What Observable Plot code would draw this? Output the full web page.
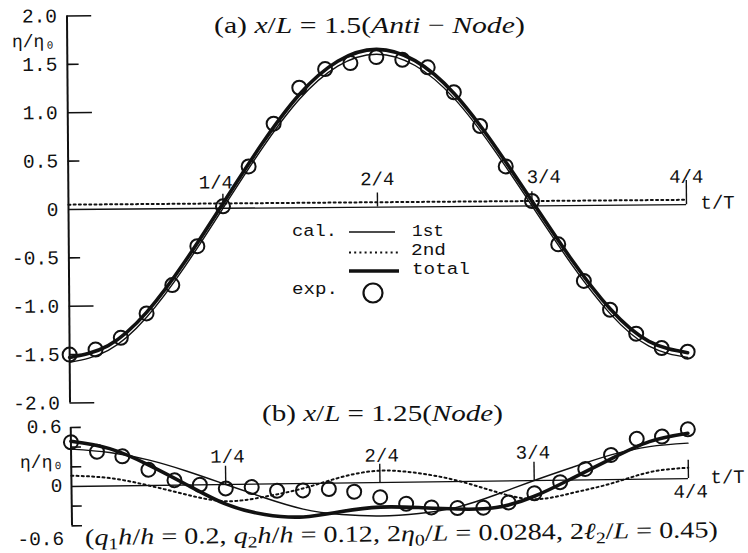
<!DOCTYPE html>
<html><head><meta charset="utf-8">
<script src="https://cdn.jsdelivr.net/npm/d3@7"></script>
<script src="https://cdn.jsdelivr.net/npm/@observablehq/plot@0.6"></script>
<style>
html,body{margin:0;padding:0;background:#fff;}
#wrap{position:relative;width:748px;height:553px;overflow:hidden;background:#fff;}
</style></head><body>
<div id="wrap"></div>
<script>
// ---------- data ----------
const tCal = [0,0.0625,0.125,0.1875,0.25,0.3125,0.375,0.4375,0.5,0.5625,0.625,0.6875,0.75,0.8125,0.875,0.9375,1];
// (a) x/L = 1.5 (anti-node)
const a1st   = [-1.58,-1.46,-1.12,-0.60,0.00,0.60,1.12,1.46,1.58,1.46,1.12,0.60,0.00,-0.60,-1.12,-1.46,-1.58];
const a2nd   = [0.05,0.05,0.05,0.05,0.05,0.05,0.05,0.05,0.05,0.05,0.05,0.05,0.05,0.05,0.05,0.05,0.05];
const aTotal = [-1.53,-1.41,-1.07,-0.55,0.05,0.65,1.17,1.51,1.63,1.51,1.17,0.65,0.05,-0.55,-1.07,-1.41,-1.53];
const tExp = [0,0.042,0.083,0.125,0.167,0.208,0.25,0.292,0.333,0.375,0.417,0.458,0.5,0.542,0.583,0.625,0.667,0.708,0.75,0.792,0.833,0.875,0.917,0.958,1];
const aExp = [-1.50,-1.45,-1.33,-1.08,-0.79,-0.39,0.02,0.43,0.87,1.24,1.43,1.49,1.55,1.52,1.44,1.18,0.83,0.41,0.05,-0.40,-0.78,-1.08,-1.33,-1.48,-1.52];
// (b) x/L = 1.25 (node)
const b1st   = [0.38,0.34,0.26,0.14,0.00,-0.14,-0.26,-0.32,-0.34,-0.32,-0.26,-0.14,0.00,0.13,0.25,0.33,0.36];
const b2nd   = [0.11,0.08,0.00,-0.10,-0.17,-0.13,-0.05,0.06,0.12,0.09,0.01,-0.11,-0.19,-0.13,-0.04,0.07,0.11];
const bTotal = [0.46,0.38,0.21,0.00,-0.20,-0.31,-0.34,-0.29,-0.25,-0.26,-0.28,-0.27,-0.16,0.02,0.21,0.38,0.46];
const bExp = [0.45,0.35,0.30,0.16,0.05,0.00,-0.04,-0.03,-0.07,-0.07,-0.06,-0.09,-0.15,-0.22,-0.26,-0.27,-0.27,-0.22,-0.13,-0.02,0.11,0.25,0.41,0.43,0.50];
// ticks / labels
const aTicksMajor = [2,1,-1,-2];
const aTicksMinor = [1.5,0.5,-0.5,-1.5];
const aLabels = [2,1.5,1,0.5,0,-0.5,-1,-1.5,-2];
const bTicks = [0.6,0.4,0.2,-0.2,-0.4];
const bLabelsUpper = [0.6,0];
const bLabelsLower = [-0.6];
const quarters = [0.25,0.5,0.75,1];
const quarterLabels = ["1/4","2/4","3/4","4/4"];

// ---------- style ----------
const ink = "#111";
const mono = "Liberation Mono, DejaVu Sans Mono, monospace";
const serif = "Liberation Serif, DejaVu Serif, serif";
const fmt = v => v === 0 ? "0" : (v < 0 ? "-" : "") + Math.abs(v).toFixed(1);
const rows = (ts, vs) => ts.map((t, i) => ({t, v: vs[i]}));
const wrap = document.getElementById("wrap");

function curves(first, second, total, exp, r) {
  return [
    Plot.line(rows(tCal, second), {x: "t", y: "v", curve: "natural", stroke: ink, strokeWidth: 2, strokeDasharray: "2,3.2"}),
    Plot.line(rows(tCal, first), {x: "t", y: "v", curve: "natural", stroke: ink, strokeWidth: 1.4}),
    Plot.line(rows(tCal, total), {x: "t", y: "v", curve: "natural", stroke: ink, strokeWidth: 3.6}),
    Plot.dot(rows(tExp, exp), {x: "t", y: "v", r, stroke: ink, strokeWidth: 2, fill: "none"})
  ];
}

// ---------- panel (a) ----------
const qOffA = [[-7,-26],[0,-28],[12,-29],[0,-28]];
const plotA = Plot.plot({
  width: 748, height: 412,
  marginLeft: 68, marginRight: 62, marginTop: 15.5, marginBottom: 9.5,
  x: {domain: [0, 1], axis: null},
  y: {domain: [-2, 2], axis: null},
  style: {background: "transparent", overflow: "visible"},
  marks: [
    Plot.ruleX([0], {y1: -2, y2: 2, stroke: ink, strokeWidth: 2}),
    Plot.ruleY([0], {x1: 0, x2: 1, stroke: ink, strokeWidth: 1.3}),
    Plot.ruleY(aTicksMajor, {y: d => d, x1: 0, x2: 0.04, stroke: ink, strokeWidth: 1.6}),
    Plot.ruleY(aTicksMinor, {y: d => d, x1: 0, x2: 0.019, stroke: ink, strokeWidth: 1.6}),
    Plot.ruleX(quarters.slice(0, 3), {x: d => d, y1: 0, y2: 0.145, stroke: ink, strokeWidth: 1.4}),
    Plot.ruleX(quarters.slice(3), {x: d => d, y1: 0, y2: 0.25, stroke: ink, strokeWidth: 1.4}),
    Plot.text(aLabels, {x: 0, y: d => d, text: fmt, textAnchor: "end", dx: -10, fontFamily: mono, fontSize: 19.5, fill: ink}),
    Plot.text(["η/η₀"], {x: 0, y: 2, text: d => d, textAnchor: "end", dx: -12, dy: 25, fontFamily: mono, fontSize: 18, fill: ink}),
    ...quarters.map((q, i) => Plot.text([q], {x: d => d, y: 0, text: () => quarterLabels[i], dx: qOffA[i][0], dy: qOffA[i][1], fontFamily: mono, fontSize: 19, fill: ink})),
    Plot.text(["t/T"], {x: 1, y: 0, text: d => d, textAnchor: "start", dx: 14, dy: -2, fontFamily: mono, fontSize: 19, fill: ink}),
    ...curves(a1st, a2nd, aTotal, aExp, 7)
  ]
});
plotA.style.position = "absolute";
plotA.style.left = "0px";
plotA.style.top = "0px";
plotA.style.transformOrigin = "68px 209px";
plotA.style.transform = "rotate(-0.45deg)";
wrap.appendChild(plotA);

// ---------- panel (b) ----------
const qOffB = [[2,-28],[2,-27],[-1,-28],[2,13]];
const plotB = Plot.plot({
  width: 748, height: 138,
  marginLeft: 71, marginRight: 60, marginTop: 12, marginBottom: 8,
  x: {domain: [0, 1], axis: null},
  y: {domain: [-0.6, 0.6], axis: null},
  style: {background: "transparent", overflow: "visible"},
  marks: [
    Plot.ruleX([0], {y1: -0.4, y2: 0.6, stroke: ink, strokeWidth: 2}),
    Plot.ruleY([0], {x1: 0, x2: 1, stroke: ink, strokeWidth: 1.3}),
    Plot.ruleY(bTicks, {y: d => d, x1: 0, x2: 0.017, stroke: ink, strokeWidth: 1.6}),
    Plot.ruleX(quarters, {x: d => d, y1: 0, y2: 0.185, stroke: ink, strokeWidth: 1.4}),
    Plot.text(bLabelsUpper, {x: 0, y: d => d, text: fmt, textAnchor: "end", dx: -9, dy: -1, fontFamily: mono, fontSize: 19.5, fill: ink}),
    Plot.text(bLabelsLower, {x: 0, y: d => d, text: fmt, textAnchor: "end", dx: -8, dy: -7, fontFamily: mono, fontSize: 19.5, fill: ink}),
    Plot.text(["η/η₀"], {x: 0, y: 0.6, text: d => d, textAnchor: "end", dx: -8, dy: 34, fontFamily: mono, fontSize: 18, fill: ink}),
    ...quarters.map((q, i) => Plot.text([q], {x: d => d, y: 0, text: () => quarterLabels[i], dx: qOffB[i][0], dy: qOffB[i][1], fontFamily: mono, fontSize: 19, fill: ink})),
    Plot.text(["t/T"], {x: 1, y: 0, text: d => d, textAnchor: "start", dx: 22, dy: -1, fontFamily: mono, fontSize: 19, fill: ink}),
    ...curves(b1st, b2nd, bTotal, bExp, 7)
  ]
});
plotB.style.position = "absolute";
plotB.style.left = "0px";
plotB.style.top = "415px";
plotB.style.transformOrigin = "71px 71px";
plotB.style.transform = "rotate(-0.74deg)";
wrap.appendChild(plotB);

// ---------- overlay: titles, caption, legend ----------
const ov = d3.select(wrap).append("svg")
  .attr("width", 748).attr("height", 553)
  .style("position", "absolute").style("left", "0px").style("top", "0px")
  .style("pointer-events", "none");

function addText({x, y, parts, family, size, width, rotate = 0}) {
  const g = ov.append("g");
  const t = g.append("text").attr("font-family", family).attr("font-size", size)
    .attr("fill", ink).style("white-space", "pre");
  let shift = 0;
  for (const [s, kind] of parts) {
    const ts = t.append("tspan").text(s);
    if (kind === "i") ts.attr("font-style", "italic");
    if (kind === "sub") {
      ts.attr("font-size", size * 0.7).attr("dy", size * 0.2 - shift);
      shift = size * 0.2;
    } else if (shift) {
      ts.attr("dy", -shift);
      shift = 0;
    }
  }
  const k = width ? width / t.node().getComputedTextLength() : 1;
  g.attr("transform", `translate(${x},${y}) rotate(${rotate}) scale(${k},1)`);
}

addText({x: 214, y: 33, width: 311, size: 24, family: serif,
  parts: [["(a) ", ""], ["x", "i"], ["/", ""], ["L", "i"], [" = 1.5(", ""], ["Anti", "i"], [" − ", ""], ["Node", "i"], [")", ""]]});
addText({x: 262, y: 421, width: 241, size: 24, family: serif,
  parts: [["(b) ", ""], ["x", "i"], ["/", ""], ["L", "i"], [" = 1.25(", ""], ["Node", "i"], [")", ""]]});
addText({x: 85, y: 545, width: 633, size: 23, family: serif, rotate: -0.7,
  parts: [["(", ""], ["q", "i"], ["1", "sub"], ["h", "i"], ["/", ""], ["h", "i"], [" = 0.2, ", ""],
          ["q", "i"], ["2", "sub"], ["h", "i"], ["/", ""], ["h", "i"], [" = 0.12, 2", ""],
          ["η", "i"], ["0", "sub"], ["/", ""], ["L", "i"], [" = 0.0284, 2", ""],
          ["ℓ", "i"], ["2", "sub"], ["/", ""], ["L", "i"], [" = 0.45)", ""]]});

// legend
const legendText = [["cal.", 292, 236, 45], ["1st", 412, 236, 32], ["2nd", 411, 255, 35], ["total", 412, 274, 58], ["exp.", 292, 294, 46]];
for (const [s, x, y, w] of legendText) addText({x, y, parts: [[s, ""]], family: mono, size: 16.5, width: w});
ov.append("line").attr("x1", 349).attr("x2", 395).attr("y1", 232).attr("y2", 232).attr("stroke", ink).attr("stroke-width", 1.4);
ov.append("line").attr("x1", 349).attr("x2", 398).attr("y1", 252.5).attr("y2", 252.5).attr("stroke", ink).attr("stroke-width", 2).attr("stroke-dasharray", "2,3.2");
ov.append("line").attr("x1", 349).attr("x2", 399).attr("y1", 271).attr("y2", 271).attr("stroke", ink).attr("stroke-width", 3.6);
ov.append("circle").attr("cx", 373).attr("cy", 293).attr("r", 9.5).attr("fill", "none").attr("stroke", ink).attr("stroke-width", 2.2);
</script>
</body></html>
